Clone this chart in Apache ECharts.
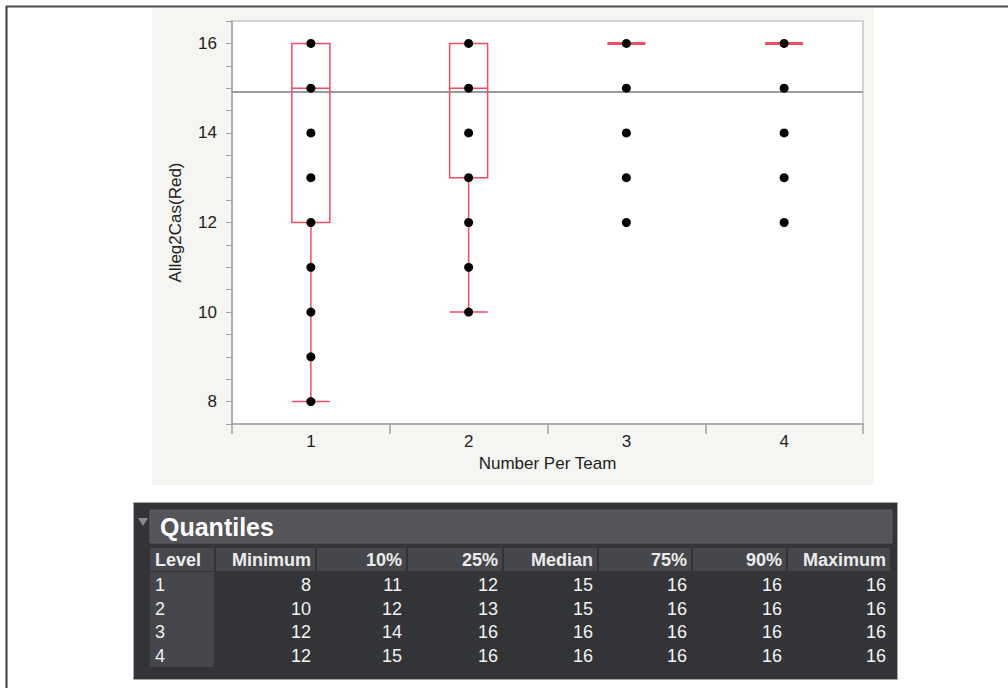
<!DOCTYPE html>
<html>
<head>
<meta charset="utf-8">
<script src="https://cdn.jsdelivr.net/npm/echarts@6/dist/echarts.min.js"></script>
<style>
  html, body { margin: 0; padding: 0; background: #ffffff; }
  #chart { width: 1008px; height: 688px; }
</style>
</head>
<body>
<div id="chart"></div>
<script>
// Levels of "Number Per Team"
const levels = ['1', '2', '3', '4'];

// Distinct response values observed at each level
const pointsLevel1 = [8, 9, 10, 11, 12, 13, 14, 15, 16];
const pointsLevel2 = [10, 11, 12, 13, 14, 15, 16];
const pointsLevel3 = [12, 13, 14, 15, 16];
const pointsLevel4 = [12, 13, 14, 15, 16];

// Quantiles per level
const minimum = [8, 10, 12, 12];
const p10 = [11, 12, 14, 15];
const p25 = [12, 13, 16, 16];
const median = [15, 15, 16, 16];
const p75 = [16, 16, 16, 16];
const p90 = [16, 16, 16, 16];
const maximum = [16, 16, 16, 16];

// Grand mean of Alleg2Cas(Red)
const grandMean = 14.93;

// Table headings
const quantileHeaders = ['Level', 'Minimum', '10%', '25%', 'Median', '75%', '90%', 'Maximum'];

const FONT = "'Liberation Sans', Arial, Helvetica, sans-serif";
const RED = '#ee4d64';

const pointsByLevel = [pointsLevel1, pointsLevel2, pointsLevel3, pointsLevel4];

// Outlier box plot: whiskers reach the furthest points within 1.5 IQR of the box
const boxData = levels.map((lv, i) => {
  const q1 = p25[i], q3 = p75[i], iqr = q3 - q1;
  const pts = pointsByLevel[i];
  const lo = Math.min(...pts.filter(v => v >= q1 - 1.5 * iqr));
  const hi = Math.max(...pts.filter(v => v <= q3 + 1.5 * iqr));
  const item = { value: [lo, q1, median[i], q3, hi] };
  if (iqr === 0) item.itemStyle = { borderWidth: 3 };
  return item;
});

const scatterData = [];
pointsByLevel.forEach((pts, i) => pts.forEach(v => scatterData.push([i, v])));

// ---- Quantiles table drawn as graphic elements ----
const colCells = [[150, 214], [216, 315], [317, 406], [408, 502], [504, 597], [599, 691], [693, 786], [788, 890]];
const rowY = [585, 609, 632, 656];
const tableCols = [levels, minimum, p10, p25, median, p75, p90, maximum];

function txt(text, x, y, align, font, fill) {
  return {
    type: 'text', silent: true,
    style: { text: String(text), x: x, y: y, align: align, textAlign: align,
             verticalAlign: 'middle', textVerticalAlign: 'middle', font: font, fill: fill }
  };
}

const tableEls = [];
tableEls.push({ type: 'rect', silent: true, shape: { x: 133.5, y: 502.5, width: 764, height: 177 },
  style: { fill: '#333438', stroke: '#a8a8a8', lineWidth: 1 } });
tableEls.push({ type: 'polygon', silent: true, shape: { points: [[138, 518], [148, 518], [143, 526]] },
  style: { fill: '#8a8a8c' } });
tableEls.push({ type: 'rect', silent: true, shape: { x: 150, y: 510, width: 742, height: 33 },
  style: { fill: '#555459', stroke: '#5f5e63', lineWidth: 1 } });
tableEls.push(txt('Quantiles', 160, 527, 'left', 'bold 25px ' + FONT, '#ffffff'));
colCells.forEach((c, j) => {
  tableEls.push({ type: 'rect', silent: true, shape: { x: c[0], y: 548, width: c[1] - c[0], height: 23 },
    style: { fill: '#46474d' } });
  const isLevel = j === 0;
  tableEls.push(txt(quantileHeaders[j], isLevel ? 155 : c[1] - 4, 560, isLevel ? 'left' : 'right',
    'bold 18px ' + FONT, '#ececec'));
});
tableEls.push({ type: 'rect', silent: true, shape: { x: 150, y: 572, width: 64, height: 95 },
  style: { fill: '#45464c' } });
tableCols.forEach((col, j) => {
  const c = colCells[j];
  const isLevel = j === 0;
  col.forEach((v, r) => {
    tableEls.push(txt(v, isLevel ? 155 : c[1] - 4, rowY[r], isLevel ? 'left' : 'right',
      '18px ' + FONT, '#f2f2f2'));
  });
});

const chart = echarts.init(document.getElementById('chart'), null, { renderer: 'svg' });

chart.setOption({
  backgroundColor: '#ffffff',
  animation: false,
  textStyle: { fontFamily: FONT },
  graphic: [
    // window frame
    { type: 'line', silent: true, z: -100, shape: { x1: 6, y1: 6.5, x2: 1008, y2: 6.5 },
      style: { stroke: '#4d4d4d', lineWidth: 2 } },
    { type: 'line', silent: true, z: -100, shape: { x1: 6.5, y1: 6, x2: 6.5, y2: 688 },
      style: { stroke: '#3a3a3a', lineWidth: 2 } },
    // chart panel
    { type: 'rect', silent: true, z: -100, shape: { x: 152, y: 8, width: 722, height: 477 },
      style: { fill: '#f5f5f1' } },
    { type: 'group', silent: true, children: tableEls }
  ],
  grid: {
    left: 232, top: 21, width: 631, height: 403,
    show: true, backgroundColor: '#ffffff', borderColor: '#d2d2d2', borderWidth: 2
  },
  xAxis: {
    type: 'category',
    data: levels,
    boundaryGap: true,
    name: 'Number Per Team',
    nameLocation: 'middle',
    nameGap: 30,
    nameTextStyle: { fontSize: 17, color: '#222222', fontFamily: FONT },
    axisLine: { lineStyle: { color: '#a2a2a2', width: 1.5 } },
    axisTick: { show: true, alignWithLabel: false, length: 10, lineStyle: { color: '#a2a2a2', width: 1.5 } },
    axisLabel: { fontSize: 17, color: '#222222', margin: 9, fontFamily: FONT },
    splitLine: { show: false }
  },
  yAxis: {
    type: 'value',
    min: 7.5, max: 16.5, interval: 0.5,
    name: 'Alleg2Cas(Red)',
    nameLocation: 'middle',
    nameGap: 48,
    nameRotate: 90,
    nameTextStyle: { fontSize: 17, color: '#222222', fontFamily: FONT },
    axisLine: { show: true, lineStyle: { color: '#a2a2a2', width: 1.5 } },
    axisTick: { show: true, length: 6, lineStyle: { color: '#a2a2a2', width: 1 } },
    axisLabel: {
      fontSize: 17, color: '#222222', margin: 15, fontFamily: FONT,
      formatter: v => (v % 2 === 0 ? String(v) : '')
    },
    splitLine: { show: false }
  },
  series: [
    {
      type: 'boxplot',
      data: boxData,
      boxWidth: [38, 38],
      z: 3,
      itemStyle: { color: 'rgba(0,0,0,0)', borderColor: RED, borderWidth: 1.5 },
      markLine: {
        silent: true, symbol: 'none', z: 1,
        label: { show: false },
        lineStyle: { color: '#9a9a9a', width: 2, type: 'solid' },
        data: [{ yAxis: grandMean }]
      }
    },
    {
      type: 'scatter',
      data: scatterData,
      symbol: 'circle',
      symbolSize: 9,
      z: 5,
      itemStyle: { color: '#000000', opacity: 1 }
    }
  ]
});
</script>
</body>
</html>
